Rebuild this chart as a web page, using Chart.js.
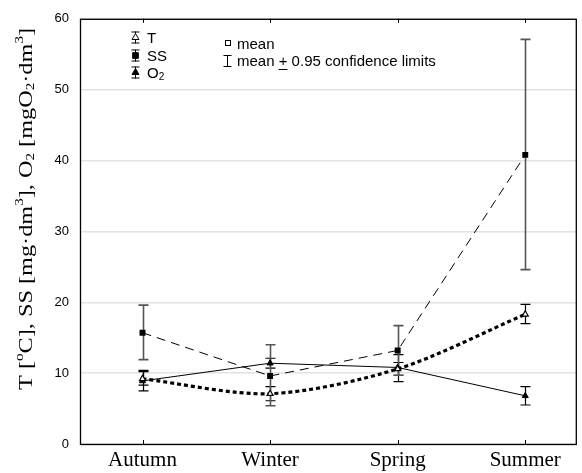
<!DOCTYPE html>
<html>
<head>
<meta charset="utf-8">
<script src="https://cdn.jsdelivr.net/npm/chart.js@4.4.1/dist/chart.umd.min.js"></script>
<style>
  html, body { margin: 0; padding: 0; background: #fff; }
</style>
</head>
<body>
<canvas id="myChart" width="582" height="473"></canvas>
<script>
/* data */
var seasons = ["Autumn", "Winter", "Spring", "Summer"];

var tMean = [9.2, 7.1, 10.6, 18.3];
var tLow  = [8.3, 6.1, 9.7, 17.0];
var tHigh = [10.2, 8.1, 11.5, 19.7];

var ssMean = [15.7, 9.6, 13.2, 40.8];
var ssLow  = [11.9, 5.4, 9.7, 24.6];
var ssHigh = [19.6, 14.0, 16.7, 57.1];

var o2Mean = [8.9, 11.4, 10.8, 6.8];
var o2Low  = [7.5, 10.7, 8.8, 5.5];
var o2High = [10.4, 12.1, 12.6, 8.1];

var SANS = "'Liberation Sans', Arial, sans-serif";
var SERIF = "'Liberation Serif', 'Times New Roman', serif";

function pts(arr) {
  return arr.map(function (v, i) { return { x: i, y: v }; });
}

var errSets = [
  { low: tLow, high: tHigh, color: "#000", width: 1.2 },
  { low: o2Low, high: o2High, color: "#000", width: 1.2 },
  { low: ssLow, high: ssHigh, color: "#555", width: 1.6 }
];

/* error bars drawn through the scales */
var errorBars = {
  id: "errorBars",
  beforeDatasetsDraw: function (chart) {
    var ctx = chart.ctx, xs = chart.scales.x, ys = chart.scales.y;
    ctx.save();
    errSets.forEach(function (e) {
      ctx.strokeStyle = e.color;
      ctx.lineWidth = e.width;
      for (var i = 0; i < seasons.length; i++) {
        var x = Math.round(xs.getPixelForValue(i)) + 0.5;
        var y1 = ys.getPixelForValue(e.low[i]);
        var y2 = ys.getPixelForValue(e.high[i]);
        ctx.beginPath();
        ctx.moveTo(x, y1); ctx.lineTo(x, y2);
        ctx.moveTo(x - 5, y1); ctx.lineTo(x + 5, y1);
        ctx.moveTo(x - 5, y2); ctx.lineTo(x + 5, y2);
        ctx.stroke();
      }
    });
    ctx.restore();
  }
};

// draws text with sup/sub parts, stretched to a given length
function richText(ctx, parts, size, len) {
  var total = 0;
  parts.forEach(function (p) {
    var s = p[1] ? size * 0.62 : size;
    ctx.font = s + "px " + SERIF;
    p.w = ctx.measureText(p[0]).width;
    total += p.w;
  });
  ctx.scale(len / total, 1);
  var cx = -total / 2;
  parts.forEach(function (p) {
    var s = p[1] ? size * 0.62 : size;
    var dy = p[1] === "sup" ? -size * 0.36 : (p[1] === "sub" ? size * 0.22 : 0);
    ctx.font = s + "px " + SERIF;
    ctx.fillText(p[0], cx, dy);
    cx += p.w;
  });
}

function ibar(ctx, x, y, h) {
  ctx.beginPath();
  ctx.moveTo(x + 0.5, y - h / 2); ctx.lineTo(x + 0.5, y + h / 2);
  ctx.moveTo(x - 3.5, y - h / 2 + 0.5); ctx.lineTo(x + 4.5, y - h / 2 + 0.5);
  ctx.moveTo(x - 3.5, y + h / 2 - 0.5); ctx.lineTo(x + 4.5, y + h / 2 - 0.5);
  ctx.stroke();
}

var decorations = {
  id: "decorations",
  afterDraw: function (chart) {
    var ctx = chart.ctx, a = chart.chartArea, xs = chart.scales.x;
    ctx.save();
    // frame
    ctx.strokeStyle = "#000";
    ctx.lineWidth = 1.3;
    ctx.strokeRect(a.left + 0.5, a.top + 0.5, a.right - a.left - 1, a.bottom - a.top);
    // inner tick marks top and bottom
    ctx.lineWidth = 1;
    for (var i = 0; i < seasons.length; i++) {
      var x = Math.round(xs.getPixelForValue(i)) + 0.5;
      ctx.beginPath();
      ctx.moveTo(x, a.top); ctx.lineTo(x, a.top + 4);
      ctx.moveTo(x, a.bottom); ctx.lineTo(x, a.bottom - 4);
      ctx.stroke();
    }

    // y axis title
    ctx.fillStyle = "#000";
    ctx.textBaseline = "middle";
    ctx.textAlign = "left";
    ctx.save();
    ctx.translate(27, 209);
    ctx.rotate(-Math.PI / 2);
    richText(ctx, [
      ["T [", ""], ["o", "sup"], ["C], SS [mg\u00b7dm", ""], ["3", "sup"],
      ["], O", ""], ["2", "sub"], [" [mgO", ""], ["2", "sub"], ["\u00b7dm", ""],
      ["3", "sup"], ["]", ""]
    ], 18.5, 362);
    ctx.restore();

    // legend
    ctx.lineWidth = 1;
    ctx.strokeStyle = "#000";
    var lx = 135, rows = [37.5, 55.5, 72.5];
    var styles = [
      { pointStyle: "triangle", fill: "#fff" },
      { pointStyle: "rect", fill: "#000" },
      { pointStyle: "triangle", fill: "#000" }
    ];
    rows.forEach(function (ry, k) {
      ibar(ctx, lx, ry, 12);
      ctx.fillStyle = styles[k].fill;
      Chart.helpers.drawPoint(ctx, { pointStyle: styles[k].pointStyle, radius: 4, rotation: 0, borderWidth: 1 }, lx + 0.5, ry);
    });
    ctx.fillStyle = "#000";
    ctx.font = "15px " + SANS;
    ctx.fillText("T", 147, rows[0] + 1);
    ctx.fillText("SS", 147, rows[1] + 1);
    ctx.fillText("O", 147, rows[2] + 1);
    var ow = ctx.measureText("O").width;
    ctx.font = "10px " + SANS;
    ctx.fillText("2", 147 + ow, rows[2] + 5);

    // mean / confidence legend
    ctx.lineWidth = 1;
    ctx.strokeRect(225.5, 40.5, 5, 5);
    ctx.font = "15px " + SANS;
    ctx.fillText("mean", 237, 44.5);
    ibar(ctx, 227, 61, 12);
    var tx = 237;
    ctx.fillText("mean ", tx, 62);
    tx += ctx.measureText("mean ").width;
    ctx.fillText("+", tx, 62);
    var pw = ctx.measureText("+").width;
    ctx.beginPath();
    ctx.moveTo(tx, 69.5); ctx.lineTo(tx + pw, 69.5);
    ctx.stroke();
    tx += pw;
    ctx.fillText(" 0.95 confidence limits", tx, 62);
    ctx.restore();
  }
};

new Chart("myChart", {
  type: "line",
  data: {
    datasets: [{
      label: "T",
      data: pts(tMean),
      borderColor: "#000",
      borderWidth: 3.2,
      borderDash: [4, 3],
      tension: 0.3,
      pointStyle: "triangle",
      pointRadius: 3.5,
      pointBackgroundColor: "#fff",
      pointBorderColor: "#000",
      pointBorderWidth: 1.2,
      fill: false
    }, {
      label: "SS",
      data: pts(ssMean),
      borderColor: "#000",
      borderWidth: 1,
      borderDash: [9, 6],
      pointStyle: "rect",
      pointRadius: 4.2,
      pointBackgroundColor: "#000",
      pointBorderColor: "#000",
      pointBorderWidth: 0,
      fill: false
    }, {
      label: "O2",
      data: pts(o2Mean),
      borderColor: "#000",
      borderWidth: 1,
      pointStyle: "triangle",
      pointRadius: 3.5,
      pointBackgroundColor: "#000",
      pointBorderColor: "#000",
      pointBorderWidth: 1,
      fill: false
    }]
  },
  options: {
    responsive: false,
    animation: false,
    devicePixelRatio: 1,
    layout: { padding: { top: 17, right: 1, left: 0, bottom: 0 } },
    plugins: { legend: { display: false }, tooltip: { enabled: false } },
    scales: {
      x: {
        type: "linear",
        min: -0.49,
        max: 3.404,
        grid: { display: false, drawTicks: false },
        border: { display: false },
        afterBuildTicks: function (scale) {
          scale.ticks = seasons.map(function (s, i) { return { value: i }; });
        },
        afterFit: function (scale) { scale.height = 29; },
        ticks: {
          autoSkip: false,
          maxRotation: 0,
          padding: 4,
          color: "#000",
          font: { family: SERIF, size: 21 },
          callback: function (v) { return seasons[v]; }
        }
      },
      y: {
        min: 0,
        max: 60,
        grid: { color: "#e2e2e2", lineWidth: 1.5, drawTicks: false },
        border: { display: false },
        afterFit: function (scale) { scale.width = 80; },
        ticks: {
          stepSize: 10,
          padding: 11,
          color: "#000",
          font: { family: SANS, size: 13 }
        }
      }
    }
  },
  plugins: [errorBars, decorations]
});
</script>
</body>
</html>
